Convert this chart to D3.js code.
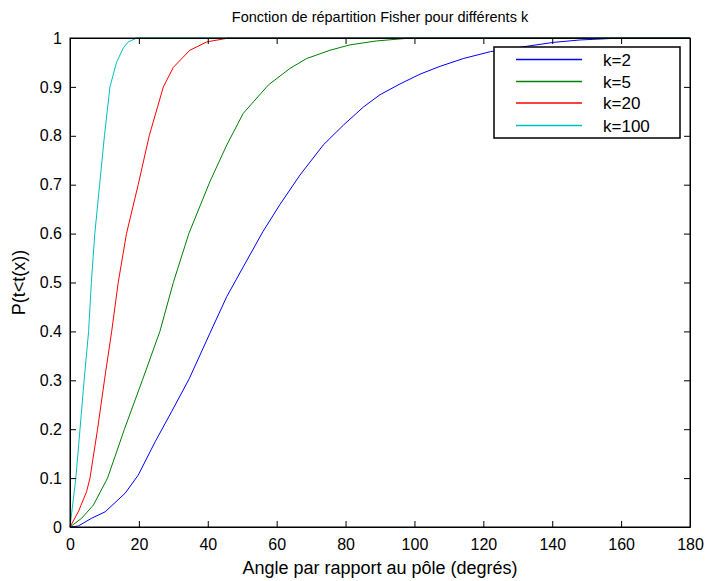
<!DOCTYPE html>
<html>
<head>
<meta charset="utf-8">
<script src="https://d3js.org/d3.v7.min.js"></script>
<style>
	body { margin: 0; background: #fff; }
	svg text { font-family: Arial, "Liberation Sans", sans-serif; fill: #000; }
</style>
</head>
<body>
<div id="chart"></div>
<script>
// values: [angle (deg), P]
var k2 = [[0,0],[2.4,0.002],[6.3,0.018],[10.2,0.031],[16,0.069],[19.8,0.106],[24.7,0.174],[29.5,0.236],[34.6,0.303],[40.6,0.396],[45.5,0.471],[50.3,0.532],[56,0.604],[61,0.66],[66.8,0.72],[73.5,0.781],[79.4,0.822],[85.2,0.859],[90,0.884],[95.8,0.906],[101.6,0.926],[107.4,0.942],[114.2,0.958],[122,0.972],[131.6,0.982],[140.3,0.991],[148.1,0.996],[160,1],[180,1]];
var k5 = [[0,0],[3.4,0.018],[6.8,0.045],[10.9,0.1],[15.8,0.2],[21,0.3],[26.1,0.4],[30,0.5],[34.5,0.6],[40.6,0.706],[45.5,0.781],[50.3,0.846],[57.6,0.904],[63.9,0.938],[68.7,0.958],[75.5,0.975],[81.3,0.986],[89,0.994],[99,1],[180,1]];
var k20 = [[0,0],[2.4,0.031],[4.8,0.072],[5.8,0.1],[8,0.2],[10,0.3],[12.1,0.4],[14,0.5],[16.4,0.6],[19.8,0.7],[23,0.8],[27.1,0.9],[30,0.94],[34.8,0.975],[39.7,0.992],[44.5,0.998],[46,1],[180,1]];
var k100 = [[0,0],[1.7,0.1],[2.9,0.2],[4.1,0.3],[5.4,0.4],[6.2,0.5],[7.2,0.6],[8.6,0.7],[10,0.8],[11.6,0.9],[13.5,0.95],[15.5,0.98],[16.9,0.992],[19.4,1],[180,1]];

var seriesNames = ["k=2", "k=5", "k=20", "k=100"];
var seriesColors = ["#0000ff", "#008000", "#ff0000", "#00bfbf"];
var xTicks = [0, 20, 40, 60, 80, 100, 120, 140, 160, 180];
var yTicks = [0, 0.1, 0.2, 0.3, 0.4, 0.5, 0.6, 0.7, 0.8, 0.9, 1];

var width = 707;
var height = 581;
var margin = {top: 38, right: 17, bottom: 54, left: 70};
var tickLen = 6;
var fontSize = 16;

var svg = d3.select("#chart").append("svg")
	.attr("width", width)
	.attr("height", height);

var x = d3.scaleLinear()
	.domain([0, 180])
	.range([margin.left, width - margin.right]);
var y = d3.scaleLinear()
	.domain([0, 1])
	.range([height - margin.bottom, margin.top]);

var series = [k2, k5, k20, k100];

var line = d3.line()
	.x(function(d) { return x(d[0]); })
	.y(function(d) { return y(d[1]); });

// curves
for(var i = 0; i < series.length; i++) {
	svg.append("path")
		.datum(series[i])
		.attr("d", line)
		.attr("fill", "none")
		.attr("stroke", seriesColors[i])
		.attr("stroke-width", 1);
}

// axes: matlab style, ticks inside, on all four sides
var fmtY = function(d) { return d === 0 || d === 1 ? String(d) : d3.format(".1f")(d); };

var xAxis = d3.axisBottom(x)
	.tickValues(xTicks)
	.tickSizeInner(-tickLen)
	.tickSizeOuter(0)
	.tickPadding(tickLen + 6);
var xAxisTop = d3.axisTop(x)
	.tickValues(xTicks)
	.tickSizeInner(-tickLen)
	.tickSizeOuter(0)
	.tickFormat("");
var yAxis = d3.axisLeft(y)
	.tickValues(yTicks)
	.tickSizeInner(-tickLen)
	.tickSizeOuter(0)
	.tickPadding(tickLen + 2)
	.tickFormat(fmtY);
var yAxisRight = d3.axisRight(y)
	.tickValues(yTicks)
	.tickSizeInner(-tickLen)
	.tickSizeOuter(0)
	.tickFormat("");

svg.append("g")
	.attr("class", "axis")
	.attr("transform", "translate(0, " + y(0) + ")")
	.call(xAxis);
svg.append("g")
	.attr("class", "axis")
	.attr("transform", "translate(0, " + y(1) + ")")
	.call(xAxisTop);
svg.append("g")
	.attr("class", "axis")
	.attr("transform", "translate(" + x(0) + ", 0)")
	.call(yAxis);
svg.append("g")
	.attr("class", "axis")
	.attr("transform", "translate(" + x(180) + ", 0)")
	.call(yAxisRight);

svg.selectAll(".axis text")
	.style("font-size", fontSize + "px")
	.style("font-family", "Arial, 'Liberation Sans', sans-serif");
svg.selectAll(".axis .domain").attr("stroke", "#000");
svg.selectAll(".axis .tick line").attr("stroke", "#000");

// box
svg.append("rect")
	.attr("x", x(0))
	.attr("y", y(1))
	.attr("width", x(180) - x(0))
	.attr("height", y(0) - y(1))
	.attr("fill", "none")
	.attr("stroke", "#000")
	.attr("stroke-width", 1);

// labels
svg.append("text")
	.text("Fonction de répartition Fisher pour différents k")
	.attr("x", (x(0) + x(180)) / 2)
	.attr("y", 22)
	.style("text-anchor", "middle")
	.style("font-size", "14.5px");

svg.append("text")
	.text("Angle par rapport au pôle (degrés)")
	.attr("x", (x(0) + x(180)) / 2)
	.attr("y", 574)
	.style("text-anchor", "middle")
	.style("font-size", "18px");

svg.append("text")
	.text("P(t<t(x))")
	.style("text-anchor", "middle")
	.style("font-size", "18px")
	.attr("transform", "translate(25, " + ((y(0) + y(1)) / 2) + ") rotate(-90)");

// legend
var legend = svg.append("g")
	.attr("transform", "translate(494, 47)");
legend.append("rect")
	.attr("width", 186)
	.attr("height", 91)
	.attr("fill", "#fff")
	.attr("stroke", "#000")
	.attr("stroke-width", 1.5);
var rowY = [12.5, 34.5, 56, 78.5];
for(var j = 0; j < seriesNames.length; j++) {
	legend.append("line")
		.attr("x1", 22)
		.attr("x2", 88)
		.attr("y1", rowY[j])
		.attr("y2", rowY[j])
		.style("stroke", seriesColors[j])
		.style("stroke-width", 1.5);
	legend.append("text")
		.text(seriesNames[j])
		.attr("x", 109)
		.attr("y", rowY[j] + 6)
		.style("font-size", "17px");
}
</script>
</body>
</html>
